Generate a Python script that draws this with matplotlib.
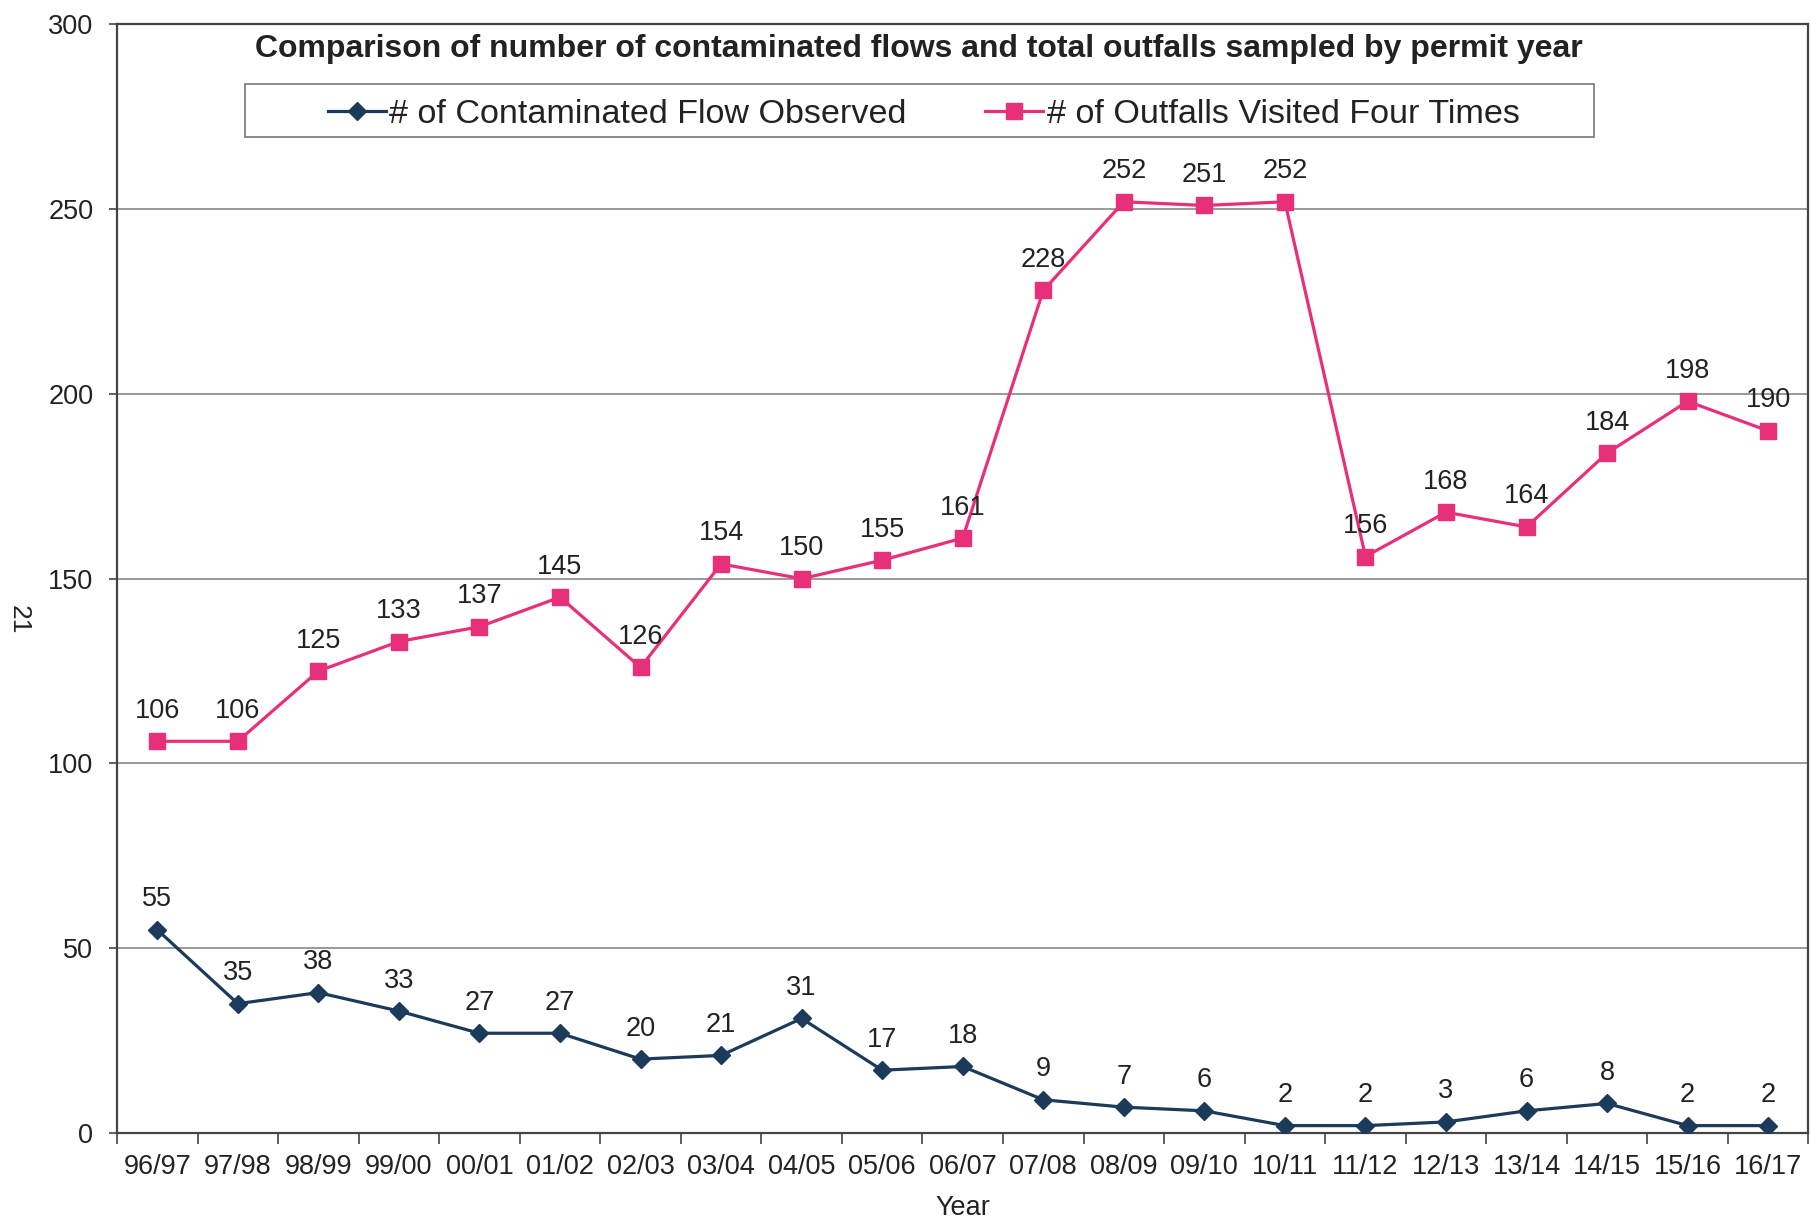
import matplotlib
matplotlib.use("Agg")
import matplotlib.pyplot as plt
from matplotlib.patches import Rectangle
import numpy as np

plt.rcParams['font.family'] = ['Liberation Sans', 'DejaVu Sans']

years = ['96/97', '97/98', '98/99', '99/00', '00/01', '01/02', '02/03',
         '03/04', '04/05', '05/06', '06/07', '07/08', '08/09', '09/10',
         '10/11', '11/12', '12/13', '13/14', '14/15', '15/16', '16/17']
contaminated = [55, 35, 38, 33, 27, 27, 20, 21, 31, 17, 18, 9, 7, 6,
                2, 2, 3, 6, 8, 2, 2]
outfalls = [106, 106, 125, 133, 137, 145, 126, 154, 150, 155, 161, 228,
            252, 251, 252, 156, 168, 164, 184, 198, 190]

navy = '#1c3a5a'
pink = '#e8307a'
txt = '#222222'

fig = plt.figure(figsize=(18.11, 12.2), dpi=100)
ax = fig.add_axes([0.0646, 0.0713, 0.934, 0.9087])

x = np.arange(len(years))
ax.plot(x, contaminated, color=navy, lw=2.3, marker='D', ms=9,
        mfc=navy, mec=navy, label='# of Contaminated Flow Observed', zorder=3)
ax.plot(x, outfalls, color=pink, lw=2.3, marker='s', ms=11,
        mfc=pink, mec=pink, label='# of Outfalls Visited Four Times', zorder=3)

# value labels above each point
for series in (contaminated, outfalls):
    for xi, v in zip(x, series):
        ax.annotate(str(v), (xi, v), xytext=(0, 22), textcoords='offset points',
                    ha='center', va='center', fontsize=19.5, color=txt)

ax.set_xlim(-0.5, len(years) - 0.5)
ax.set_ylim(0, 300)
ax.set_yticks(range(0, 301, 50))
ax.yaxis.grid(True, color='#888888', lw=1.2)
ax.set_axisbelow(True)

ax.set_xticks(x)
ax.set_xticklabels(years, fontsize=19.5)
ax.tick_params(axis='x', length=0, pad=15)
ax.set_xticks(np.arange(-0.5, len(years)), minor=True)
ax.tick_params(axis='x', which='minor', length=8, width=1.2, color='#444444')
ax.tick_params(axis='y', labelsize=19.5, length=6, width=1.2, color='#444444',
               pad=11)
for lab in ax.get_yticklabels() + ax.get_xticklabels():
    lab.set_color(txt)

for sp in ax.spines.values():
    sp.set_color('#444444')
    sp.set_linewidth(1.6)

ax.set_xlabel('Year', fontsize=19.5, color=txt, labelpad=11)

ax.text(0.474, 0.978, 'Comparison of number of contaminated flows and total outfalls sampled by permit year',
        transform=ax.transAxes, ha='center', va='center', fontsize=23,
        fontweight='bold', color=txt)

# legend box drawn separately so it can be wider than its entries
ax.add_patch(Rectangle((0.0757, 0.898), 0.873 - 0.0757, 0.9459 - 0.898,
                       transform=ax.transAxes, fill=True, facecolor='white',
                       edgecolor='#777777', lw=1.2, zorder=4))
leg = ax.legend(loc='center', bbox_to_anchor=(0.477, 0.919), ncol=2,
                fontsize=24.6, frameon=False,
                handlelength=1.7, handletextpad=0.1, columnspacing=2.3,
                borderpad=0.2)
leg.set_zorder(5)
for t in leg.get_texts():
    t.set_color(txt)

fig.text(0.0105, 0.492, '21', rotation=-90, ha='center', va='center',
         fontsize=19, color=txt)

fig.savefig('out.png', dpi=100, facecolor='white')
